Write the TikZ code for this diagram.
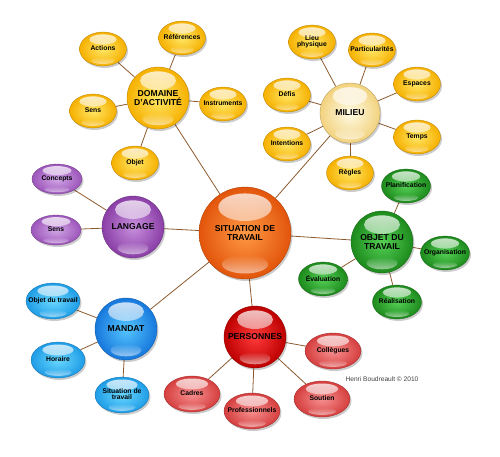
\documentclass[tikz,border=0pt]{standalone}
\usepackage{fontspec}
\setmainfont{Liberation Sans}
\setsansfont{Liberation Sans}
\usepackage{tikz}
\usetikzlibrary{calc, backgrounds, shadows, shapes.geometric, fadings}
\definecolor{slink}{HTML}{8C5A2E}
\definecolor{orgIn}{HTML}{FF9A45}
\definecolor{orgOut}{HTML}{E2550B}
\definecolor{yelIn}{HTML}{FFE766}
\definecolor{yelOut}{HTML}{F6B000}
\definecolor{palIn}{HTML}{FFFBE6}
\definecolor{palOut}{HTML}{F2D27E}
\definecolor{purIn}{HTML}{C890DE}
\definecolor{purOut}{HTML}{8A3EA6}
\definecolor{lpurIn}{HTML}{D2A6E6}
\definecolor{lpurOut}{HTML}{9C55BA}
\definecolor{grnIn}{HTML}{55D055}
\definecolor{grnOut}{HTML}{1C8A1C}
\definecolor{bluIn}{HTML}{55C6FF}
\definecolor{bluOut}{HTML}{1778DC}
\definecolor{lbluIn}{HTML}{6AD8FF}
\definecolor{lbluOut}{HTML}{1E9CE6}
\definecolor{redIn}{HTML}{FF3A3A}
\definecolor{redOut}{HTML}{BD0000}
\definecolor{lredIn}{HTML}{F79090}
\definecolor{lredOut}{HTML}{D53E3E}
\tikzfading[name=glossdown, top color=transparent!0, bottom color=transparent!100]
\tikzfading[name=glossup, top color=transparent!100, bottom color=transparent!0]
\renewcommand{\arraystretch}{0.85}
\newcommand{\nodetxt}[1]{\makebox[0pt]{\begin{tabular}{@{}c@{}}#1\end{tabular}}}
\tikzset{
  gloss/.style={path picture={
      \fill[white,opacity=0.8,path fading=glossdown] let \p1=(path picture bounding box.north east),
        \p2=(path picture bounding box.south west) in
        ($(path picture bounding box.north)!0.22!(path picture bounding box.south)$)
        ellipse [x radius={0.29*(\x1-\x2)}, y radius={0.15*(\y1-\y2)}];
      \fill[white,opacity=0.55,path fading=glossup] let \p1=(path picture bounding box.north east),
        \p2=(path picture bounding box.south west) in
        ($(path picture bounding box.north)!0.84!(path picture bounding box.south)$)
        ellipse [x radius={0.25*(\x1-\x2)}, y radius={0.1*(\y1-\y2)}];
  }},
  ballfill/.style={
    inner color=#1In, outer color=#1Out, draw=#1Out!75!black, line width=0.35pt,
    drop shadow={shadow xshift=1.5pt, shadow yshift=-2pt, opacity=0.2, fill=black},
    gloss
  },
  hub/.style={
    circle, ballfill=#1, minimum size=62pt, inner sep=1pt, align=center,
    font=\fontsize{8.6}{9.6}\selectfont\sffamily\bfseries
  },
  leaf/.style={
    ellipse, ballfill=#1, minimum width=47pt, minimum height=34pt, inner sep=0pt,
    font=\fontsize{6.8}{7.8}\selectfont\sffamily\bfseries
  },
  link/.style={draw=slink, line width=0.8pt}
}
\begin{document}
\begin{tikzpicture}[x=1pt, y=-1pt]
  \useasboundingbox (0,0) rectangle (500,456);
  % hubs
  \node[hub=org, minimum size=92pt] (sit) at (245,233) {SITUATION DE\\TRAVAIL};
  \node[hub=yel] (dom) at (158,98) {DOMAINE\\D'ACTIVITÉ};
  \node[hub=pal, minimum size=60pt] (mil) at (350,113) {MILIEU};
  \node[hub=pur] (lang) at (133,227) {LANGAGE};
  \node[hub=grn] (obj) at (382,242) {OBJET DU\\TRAVAIL};
  \node[hub=blu] (mand) at (126,329) {MANDAT};
  \node[hub=red] (pers) at (255,337) {PERSONNES};
  % leaves
  \foreach \nm/\x/\y/\txt in {dact/103/49/Actions, dref/182/38/Références,
      dins/223/104/Instruments, dsens/93/111/Sens, dobj/135/163/Objet}
    \node[leaf=yel] (\nm) at (\x,\y) {\nodetxt{\txt}};
  \foreach \nm/\x/\y/\txt in {mlieu/312/42/{Lieu\\physique}, mpart/372/50/Particularités,
      mesp/417/84/Espaces, mdef/287/95/Défis, mtemps/417/137/Temps,
      mint/287/144/Intentions, mreg/350/173/Règles}
    \node[leaf=yel] (\nm) at (\x,\y) {\nodetxt{\txt}};
  \foreach \nm/\x/\y/\txt in {lconc/57/179/Concepts, lsens/56/230/Sens}
    \node[leaf=lpur, minimum width=50pt, minimum height=30pt] (\nm) at (\x,\y) {\nodetxt{\txt}};
  \foreach \nm/\x/\y/\txt in {oplan/406/186/Planification, oorg/445/253/Organisation,
      oeval/323/279/Évaluation, oreal/397/302/Réalisation}
    \node[leaf=grn, minimum width=49pt] (\nm) at (\x,\y) {\nodetxt{\txt}};
  \foreach \nm/\x/\y/\txt in {aobj/53/301/Objet du travail, ahor/58/360/Horaire,
      asit/122/395/{Situation de\\travail}}
    \node[leaf=lblu, minimum width=54pt, minimum height=36pt] (\nm) at (\x,\y) {\nodetxt{\txt}};
  \foreach \nm/\x/\y/\txt in {pcol/333/351/Collègues, pcad/192/394/Cadres,
      ppro/252/411/Professionnels, psou/322/399/Soutien}
    \node[leaf=lred, minimum width=56pt, minimum height=36pt] (\nm) at (\x,\y) {\nodetxt{\txt}};
  \node[font=\fontsize{6.6}{8}\selectfont\sffamily, text=black!75] (credit) at (382,379)
    {Henri Boudreault © 2010};
  % connectors
  \begin{scope}[on background layer]
    \foreach \nm in {dom, mil, lang, obj, mand, pers} \draw[link] (sit) -- (\nm);
    \foreach \nm in {dact, dref, dins, dsens, dobj} \draw[link] (dom) -- (\nm);
    \foreach \nm in {mlieu, mpart, mesp, mdef, mtemps, mint, mreg} \draw[link] (mil) -- (\nm);
    \foreach \nm in {lconc, lsens} \draw[link] (lang) -- (\nm);
    \foreach \nm in {oplan, oorg, oeval, oreal} \draw[link] (obj) -- (\nm);
    \foreach \nm in {aobj, ahor, asit} \draw[link] (mand) -- (\nm);
    \foreach \nm in {pcol, pcad, ppro, psou} \draw[link] (pers) -- (\nm);
  \end{scope}
\end{tikzpicture}
\end{document}
